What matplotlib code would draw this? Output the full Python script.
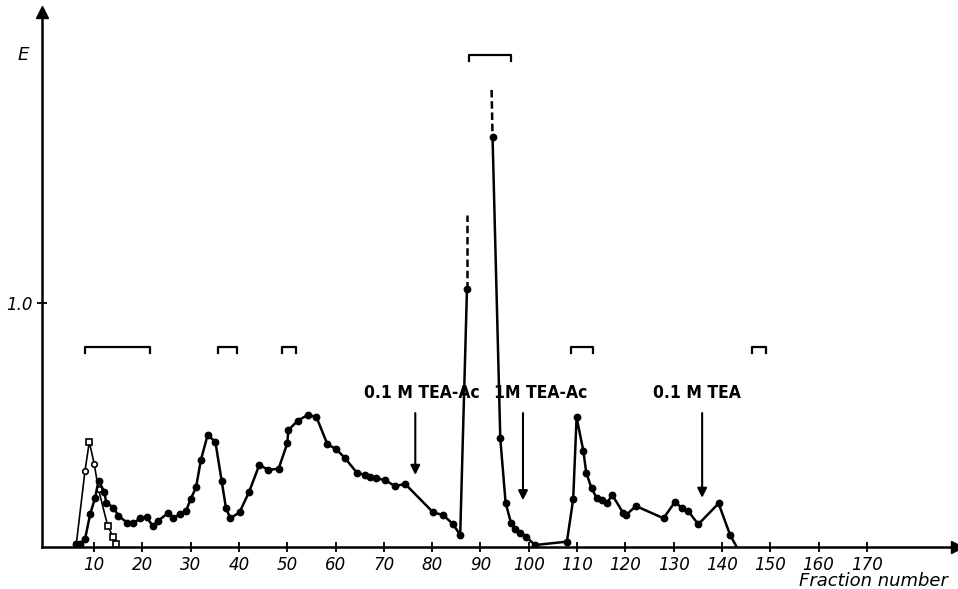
import matplotlib
matplotlib.use("Agg")
import matplotlib.pyplot as plt

# ---- data ----
open_x = [6.3, 8.1, 9.0, 10.0, 10.9, 12.8, 13.9, 14.6]
open_y = [0.01, 0.31, 0.43, 0.34, 0.235, 0.085, 0.04, 0.01]
open_marker = ['o', 'o', 's', 'o', 'o', 's', 's', 's']

main_x = [6.3, 7.0, 8.1, 9.2, 10.2, 10.9, 12.1, 12.5, 14.0, 15.0, 16.8, 18.1, 19.5, 20.9,
          22.1, 23.3, 25.2, 26.3, 27.8, 29.0, 30.0, 31.1, 32.1, 33.5, 35.1, 36.4, 37.3,
          38.2, 40.1, 42.1, 44.2, 46.1, 48.2, 50.0, 50.2, 52.2, 54.2, 56.0, 58.3, 60.1,
          62.0, 64.4, 66.1, 67.1, 68.4, 70.2, 72.3, 74.4, 80.2, 82.3, 84.3, 85.8, 87.2]
main_y = [0.01, 0.01, 0.03, 0.135, 0.20, 0.27, 0.225, 0.18, 0.16, 0.127, 0.098, 0.095, 0.116,
          0.12, 0.085, 0.106, 0.136, 0.116, 0.133, 0.145, 0.195, 0.243, 0.355, 0.458, 0.43,
          0.27, 0.157, 0.116, 0.14, 0.225, 0.335, 0.314, 0.32, 0.424, 0.478, 0.517, 0.54,
          0.533, 0.42, 0.40, 0.362, 0.303, 0.294, 0.287, 0.28, 0.273, 0.248, 0.257, 0.14,
          0.129, 0.092, 0.047, 1.056]

peak1_dash_x = [87.2, 87.2]
peak1_dash_y = [1.056, 1.36]

peak2_x = [92.5, 94.1, 95.2, 96.3, 97.2, 98.2, 99.4, 101.3]
peak2_y = [1.68, 0.444, 0.18, 0.098, 0.07, 0.057, 0.04, 0.006]
peak2_dash_x = [92.3, 92.5]
peak2_dash_y = [1.875, 1.68]

tail_x = [101.3, 107.9, 109.2, 109.9, 111.3, 111.9, 113.0, 114.1, 115.1, 116.1, 117.3,
          119.6, 120.1, 122.2, 127.9, 130.3, 131.7, 133.0, 135.1, 139.3, 141.7, 143.0]
tail_y = [0.006, 0.02, 0.195, 0.53, 0.393, 0.303, 0.239, 0.198, 0.19, 0.177, 0.211,
          0.136, 0.129, 0.166, 0.116, 0.184, 0.157, 0.146, 0.091, 0.177, 0.047, 0.0]
tail_marker_skip = [0, 21]

brackets = [(8.1, 21.6, 0.82), (35.7, 39.5, 0.82), (48.9, 51.8, 0.82),
            (108.8, 113.3, 0.82), (146.2, 149.1, 0.82), (87.7, 96.3, 2.02)]

arrow_labels = ["0.1 M TEA-Ac", "1M TEA-Ac", "0.1 M TEA"]
arrow_x = [76.5, 98.8, 135.9]
arrow_label_x = [77.9, 102.5, 134.8]
arrow_tip_y = [0.294, 0.19, 0.20]

xticks = [10, 20, 30, 40, 50, 60, 70, 80, 90, 100, 110, 120, 130, 140, 150, 160, 170]
yticks = [1.0]

# ---- figure ----
W, H = 958, 589
fig = plt.figure(figsize=(W / 100, H / 100), dpi=100)
left_px, right_px, bottom_px, top_px = 42, 957, 546.5, 12
ax = fig.add_axes([left_px / W, (H - bottom_px) / H,
                   (right_px - left_px) / W, (bottom_px - top_px) / H])
x0 = -0.8
x1 = (right_px - 45.7) / 4.83
ax.set_xlim(x0, x1)
ax.set_ylim(0, (bottom_px - top_px) / 243.5)

lw = 1.8
ms = 4.6
ax.plot(open_x, open_y, color='black', lw=1.2, zorder=3)
for xx, yy, m in zip(open_x, open_y, open_marker):
    ax.plot([xx], [yy], marker=m, ms=4.0, mfc='white', mec='black', mew=1.2, zorder=4)

ax.plot(main_x, main_y, color='black', lw=lw, marker='o', ms=ms, zorder=5)
ax.plot(peak1_dash_x, peak1_dash_y, color='black', lw=lw, ls=(0, (3, 1.5)), zorder=5)
ax.plot(peak2_x, peak2_y, color='black', lw=lw, marker='o', ms=ms, zorder=5)
ax.plot(peak2_dash_x, peak2_dash_y, color='black', lw=lw, ls=(0, (3, 1.5)), zorder=5)
ax.plot(tail_x, tail_y, color='black', lw=lw, zorder=5)
ax.plot([v for i, v in enumerate(tail_x) if i not in tail_marker_skip],
        [v for i, v in enumerate(tail_y) if i not in tail_marker_skip],
        ls='none', marker='o', ms=ms, color='black', zorder=5)

for a, b, yy in brackets:
    d = 0.025
    ax.plot([a, a, b, b], [yy - d, yy, yy, yy - d], color='black', lw=1.6)

for lab, ax_x, lx, ty in zip(arrow_labels, arrow_x, arrow_label_x, arrow_tip_y):
    ax.annotate('', xy=(ax_x, ty), xytext=(ax_x, 0.548),
                arrowprops=dict(arrowstyle='-|>', color='black', lw=1.5,
                                mutation_scale=14, shrinkA=0, shrinkB=0))
    ax.text(lx, 0.63, lab, ha='center', va='center', fontsize=12.5,
            fontweight='bold', family='DejaVu Sans', stretch='condensed')

# axes styling
for s in ['top', 'right']:
    ax.spines[s].set_visible(False)
ax.spines['left'].set_position(('data', x0))
ax.spines['left'].set_linewidth(1.8)
ax.spines['bottom'].set_linewidth(1.8)
ax.plot([1], [0], marker='>', ms=9, color='black', transform=ax.transAxes, clip_on=False)
ax.plot([0], [1], marker='^', ms=9, color='black', transform=ax.transAxes, clip_on=False)

ax.set_xticks(xticks)
ax.set_xticklabels([str(t) for t in xticks], fontsize=12, style='italic')
ax.set_yticks(yticks)
ax.set_yticklabels(['1.0'], fontsize=12, style='italic')
ax.tick_params(axis='both', direction='inout', length=7, width=1.3, pad=3)

ax.text(-3.5, 2.02, 'E', fontsize=13, style='italic', ha='right', va='center')
fig.text(948 / W, 1 - 581 / H, 'Fraction number', fontsize=13, style='italic',
         ha='right', va='center')

fig.savefig('out.png', dpi=100)
